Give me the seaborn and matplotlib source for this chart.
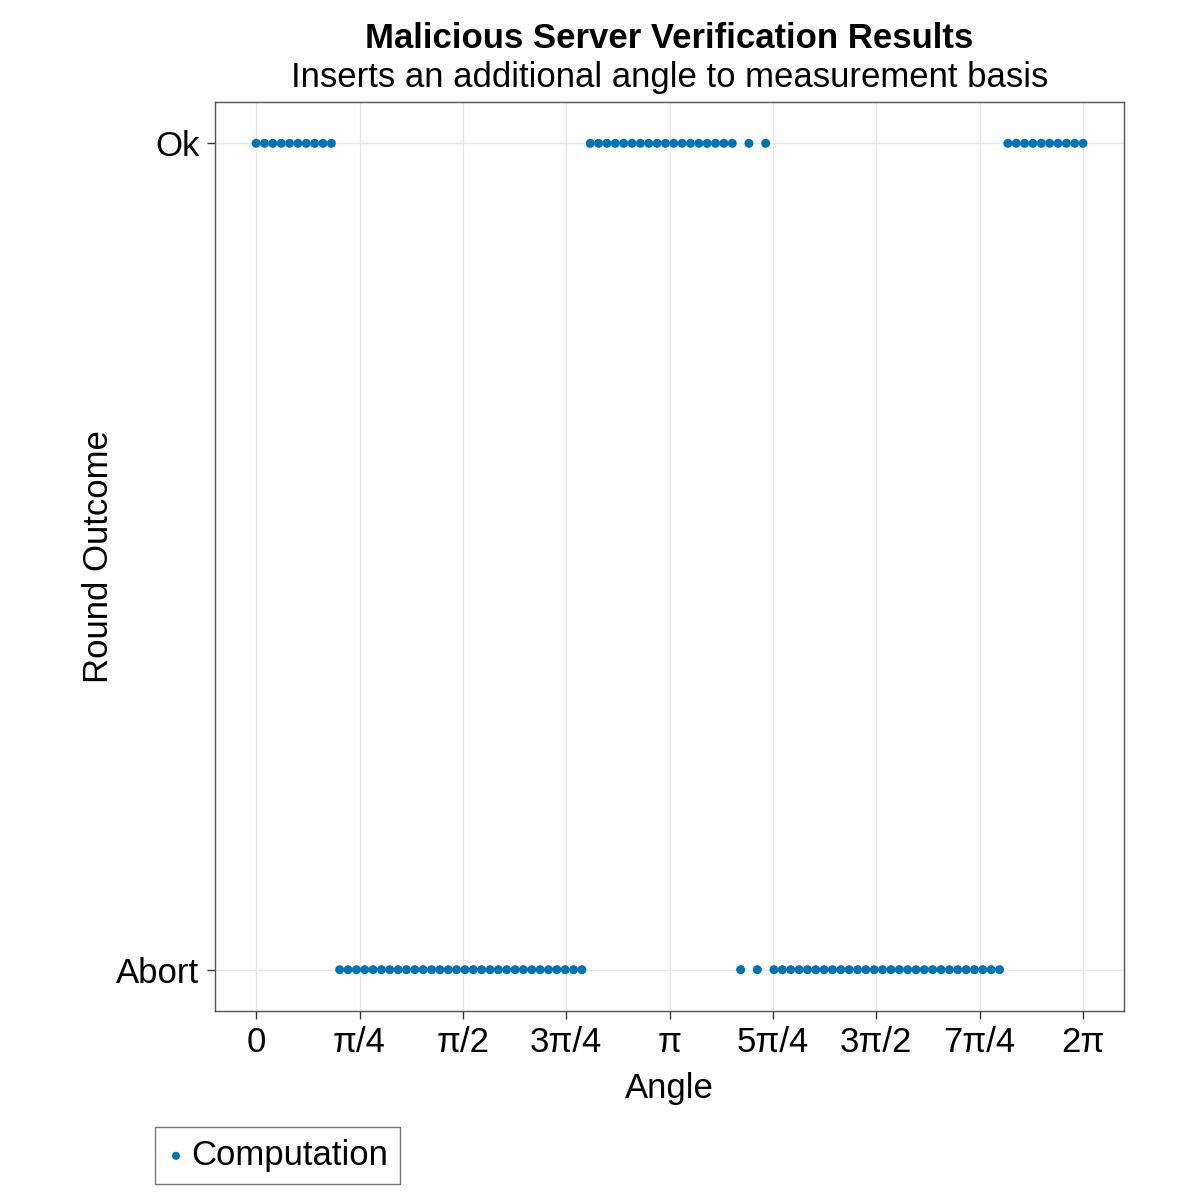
import numpy as np
import pandas as pd
import seaborn as sns
import matplotlib.pyplot as plt

# sweep of the inserted angle (radians), 100 evenly spaced rounds from 0 to 2pi
angles = [0.0, 0.0635, 0.1269, 0.1904, 0.2539, 0.3173, 0.3808, 0.4443, 0.5077, 0.5712,
          0.6347, 0.6981, 0.7616, 0.8251, 0.8885, 0.9520, 1.0155, 1.0789, 1.1424, 1.2059,
          1.2693, 1.3328, 1.3963, 1.4597, 1.5232, 1.5867, 1.6501, 1.7136, 1.7771, 1.8405,
          1.9040, 1.9675, 2.0309, 2.0944, 2.1579, 2.2213, 2.2848, 2.3483, 2.4117, 2.4752,
          2.5387, 2.6021, 2.6656, 2.7291, 2.7925, 2.8560, 2.9195, 2.9829, 3.0464, 3.1099,
          3.1733, 3.2368, 3.3003, 3.3637, 3.4272, 3.4907, 3.5541, 3.6176, 3.6811, 3.7445,
          3.8080, 3.8715, 3.9349, 3.9984, 4.0619, 4.1253, 4.1888, 4.2523, 4.3157, 4.3792,
          4.4427, 4.5061, 4.5696, 4.6331, 4.6965, 4.7600, 4.8235, 4.8869, 4.9504, 5.0139,
          5.0773, 5.1408, 5.2043, 5.2677, 5.3312, 5.3947, 5.4581, 5.5216, 5.5851, 5.6485,
          5.7120, 5.7755, 5.8389, 5.9024, 5.9659, 6.0293, 6.0928, 6.1563, 6.2197, 6.2832]

# round outcome per angle (O = Ok, A = Abort)
outcomes = ["O"] * 10 + ["A"] * 30 + ["O"] * 18 + ["A", "O", "A", "O"] + ["A"] * 28 + ["O"] * 10

outcome_labels = ["Abort", "Ok"]
xtick_labels = ["0", "π/4", "π/2", "3π/4", "π", "5π/4", "3π/2", "7π/4", "2π"]

df = pd.DataFrame({"angle": angles,
                   "outcome": [1 if o == "O" else 0 for o in outcomes]})

sns.set_style("white")
plt.rcParams['font.family'] = ['Liberation Sans', 'DejaVu Sans']
plt.rcParams['text.color'] = 'black'
plt.rcParams['axes.labelcolor'] = 'black'
plt.rcParams['xtick.color'] = 'black'
plt.rcParams['ytick.color'] = 'black'

fig = plt.figure(figsize=(12, 12), dpi=100)
ax = fig.add_axes([0.179, 0.1575, 0.758, 0.7575])

sns.scatterplot(data=df, x="angle", y="outcome", color="#0072B2", s=42,
                edgecolor="none", label="Computation", legend=False, ax=ax, zorder=3)

ax.set_xlim(-0.05 * 2 * np.pi, 1.05 * 2 * np.pi)
ax.set_ylim(-0.05, 1.05)
ax.set_xticks(np.arange(9) * np.pi / 4)
ax.set_xticklabels(xtick_labels, fontsize=25)
ax.set_yticks([0, 1])
ax.set_yticklabels(outcome_labels, fontsize=25)
ax.tick_params(bottom=True, left=True, direction="out", length=6, width=1,
               color="#333333", pad=5)
ax.grid(True, color="#e6e6e6", lw=1)
for sp in ax.spines.values():
    sp.set_color("#555555")
    sp.set_linewidth(1)

ax.set_xlabel("Angle", fontsize=25, labelpad=9)
ax.set_ylabel("Round Outcome", fontsize=25, labelpad=1)

fig.text(0.558, 1 - 38 / 1200, "Malicious Server Verification Results",
         ha="center", va="center", fontsize=25, fontweight="bold")
fig.text(0.558, 1 - 77 / 1200, "Inserts an additional angle to measurement basis",
         ha="center", va="center", fontsize=25)

handles, labels = ax.get_legend_handles_labels()
leg = fig.legend(handles, labels, loc="upper left", bbox_to_anchor=(0.129, 0.061),
                 frameon=True, fancybox=False, fontsize=25, handletextpad=0.17,
                 handlelength=0.52, borderpad=0.35, borderaxespad=0, markerscale=0.9)
leg.get_frame().set_edgecolor("#555555")
leg.get_frame().set_linewidth(1)

plt.savefig("out.png")
